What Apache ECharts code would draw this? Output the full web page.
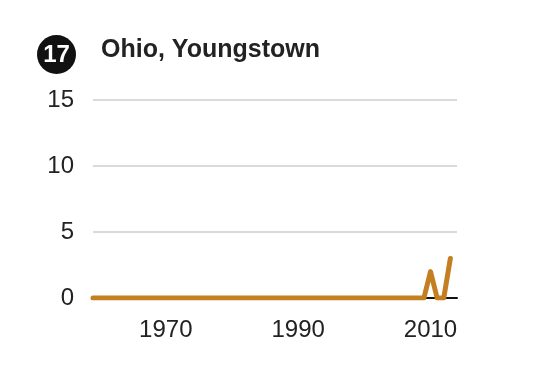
<!DOCTYPE html>
<html><head><meta charset="utf-8">
<script src="https://cdn.jsdelivr.net/npm/echarts@6/dist/echarts.min.js"></script>
<style>html,body{margin:0;padding:0;background:#fff}#c{width:550px;height:390px}</style>
</head><body><div id="c"></div>
<script>
const badge = "17";
const titleText = "Ohio, Youngstown";
const years = [1959,1960,1961,1962,1963,1964,1965,1966,1967,1968,1969,1970,1971,1972,1973,1974,1975,1976,1977,1978,1979,1980,1981,1982,1983,1984,1985,1986,1987,1988,1989,1990,1991,1992,1993,1994,1995,1996,1997,1998,1999,2000,2001,2002,2003,2004,2005,2006,2007,2008,2009,2010,2011,2012,2013];
const values = [0,0,0,0,0,0,0,0,0,0,0,0,0,0,0,0,0,0,0,0,0,0,0,0,0,0,0,0,0,0,0,0,0,0,0,0,0,0,0,0,0,0,0,0,0,0,0,0,0,0,0,2,0,0,3];
const xTicks = [1970,1990,2010];
const yTicks = [0,5,10,15];

const font = '"Liberation Sans", Arial, Helvetica, sans-serif';
const chart = echarts.init(document.getElementById('c'));
chart.setOption({
  animation:false,
  grid:{left:93,right:93,top:100,bottom:92},
  graphic:[
    {type:'circle',shape:{cx:56.5,cy:54.5,r:19.5},style:{fill:'#111'}},
    {type:'text',x:56.5,y:55,style:{text:badge,fill:'#fff',font:'bold 24px '+font,align:'center',verticalAlign:'middle'}},
    {type:'text',x:101,y:50,style:{text:titleText,fill:'#222',font:'bold 25px '+font,align:'left',verticalAlign:'middle'}}
  ],
  xAxis:{type:'value',min:1959,max:2014,
    axisLine:{show:true,onZero:true,lineStyle:{color:'#111',width:2}},
    axisTick:{show:false},splitLine:{show:false},
    axisLabel:{customValues:xTicks,formatter:v=>String(v),color:'#222',fontSize:24,fontFamily:font,margin:20}},
  yAxis:{type:'value',min:0,max:15,interval:5,
    axisLine:{show:false},axisTick:{show:false},
    splitLine:{lineStyle:{color:'#dadada',width:2}},
    axisLabel:{color:'#222',fontSize:24,fontFamily:font,margin:19}},
  series:[{type:'line',data:years.map((y,i)=>[y,values[i]]),showSymbol:false,
    lineStyle:{color:'#c47f22',width:5,cap:'round',join:'round'}}]
});
</script></body></html>
